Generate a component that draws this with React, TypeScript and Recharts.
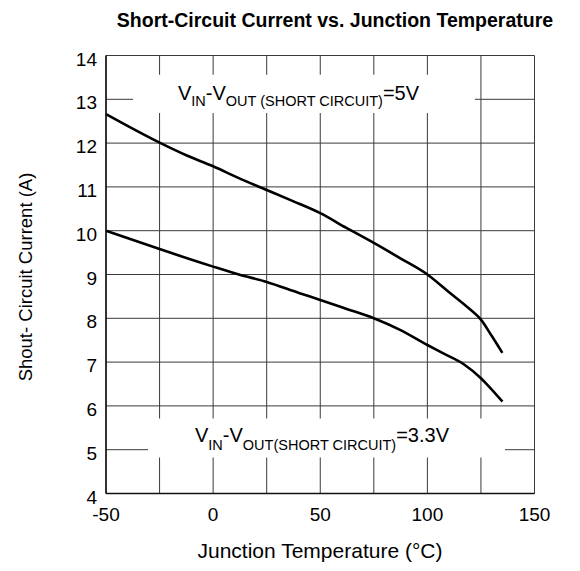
import React from 'react';
import { LineChart, Line, XAxis, YAxis, CartesianGrid, ReferenceArea } from 'recharts';

const tempTicks = [-50, -25, 0, 25, 50, 75, 100, 125, 150];
const labeledTemps = [-50, 0, 50, 100, 150];
const currentTicks = [4, 5, 6, 7, 8, 9, 10, 11, 12, 13, 14];

const temp5V = [-50, -25, -12, 0, 12, 25, 37, 50, 62, 75, 87, 100, 110, 120, 125, 130, 135];
const current5V = [12.66, 12.01, 11.71, 11.47, 11.2, 10.93, 10.68, 10.4, 10.07, 9.72, 9.38, 9.0, 8.6, 8.2, 7.97, 7.6, 7.21];

const temp33V = [-50, -25, 0, 12, 25, 40, 50, 62, 75, 87, 100, 107, 117, 125, 128, 135];
const current33V = [10.0, 9.58, 9.18, 9.0, 8.83, 8.58, 8.42, 8.22, 8.0, 7.74, 7.39, 7.21, 6.95, 6.63, 6.48, 6.1];

const data5V = temp5V.map((t, i) => ({ x: t, y: current5V[i] }));
const data33V = temp33V.map((t, i) => ({ x: t, y: current33V[i] }));

const FONT = "'Liberation Sans', Arial, sans-serif";

const XTick = (props: any) => {
  const { x, y, payload } = props;
  if (!labeledTemps.includes(payload.value)) return <g />;
  return (
    <text x={x} y={y} dy={19} textAnchor="middle" fontFamily={FONT} fontSize={19} fill="#000">
      {payload.value}
    </text>
  );
};

const YTick = (props: any) => {
  const { x, y, payload } = props;
  return (
    <text x={x - 1} y={y} dy={10} textAnchor="end" fontFamily={FONT} fontSize={19} fill="#000">
      {payload.value}
    </text>
  );
};

const BoxText = (props: any) => {
  const { viewBox, dx, dy, sub, shift, tail } = props;
  const { x, y } = viewBox;
  return (
    <text x={x + dx} y={y + dy} fontFamily={FONT} fontSize={20} fill="#000">
      <tspan>V</tspan>
      <tspan fontSize={14.5} dy={shift}>IN</tspan>
      <tspan dy={-shift}>-V</tspan>
      <tspan fontSize={14.5} dy={shift}>{sub}</tspan>
      <tspan dy={-shift}>{tail}</tspan>
    </text>
  );
};

export default function App() {
  return (
    <div style={{ position: 'absolute', left: 0, top: 0, width: 580, height: 571, background: '#fff' }}>
      <LineChart
        width={580}
        height={571}
        margin={{ top: 55.5, right: 45.5, bottom: 47.5, left: 46 }}
      >
        <CartesianGrid stroke="#3a3a3a" strokeWidth={1} />
        <XAxis
          type="number"
          dataKey="x"
          domain={[-50, 150]}
          ticks={tempTicks}
          interval={0}
          tickLine={false}
          axisLine={{ stroke: '#111', strokeWidth: 1.5 }}
          height={30}
          tick={XTick}
          allowDuplicatedCategory={false}
        />
        <YAxis
          type="number"
          dataKey="y"
          domain={[4, 14]}
          ticks={currentTicks}
          interval={0}
          tickLine={false}
          axisLine={{ stroke: '#111', strokeWidth: 1.5 }}
          width={60}
          tick={YTick}
        />
        <ReferenceArea
          x1={-37.4}
          x2={122.2}
          y1={12.69}
          y2={13.56}
          fill="#fff"
          fillOpacity={1}
          stroke="none"
          label={(p: any) => (
            <BoxText {...p} dx={45} dy={25.7} shift={6} sub="OUT (SHORT CIRCUIT)" tail="=5V" />
          )}
        />
        <ReferenceArea
          x1={-30.4}
          x2={136.2}
          y1={4.82}
          y2={5.71}
          fill="#fff"
          fillOpacity={1}
          stroke="none"
          label={(p: any) => (
            <BoxText {...p} dx={47} dy={23.3} shift={8} sub="OUT(SHORT CIRCUIT)" tail="=3.3V" />
          )}
        />
        <Line
          data={data5V}
          dataKey="y"
          type="monotone"
          stroke="#000"
          strokeWidth={2.6}
          dot={false}
          isAnimationActive={false}
        />
        <Line
          data={data33V}
          dataKey="y"
          type="monotone"
          stroke="#000"
          strokeWidth={2.6}
          dot={false}
          isAnimationActive={false}
        />
        <text x={335} y={27} textAnchor="middle" fontFamily={FONT} fontWeight="bold" fontSize={19.5} fill="#000">
          Short-Circuit Current vs. Junction Temperature
        </text>
        <text
          x={32}
          y={277}
          transform="rotate(-90 32 277)"
          textAnchor="middle"
          fontFamily={FONT}
          fontSize={18.5}
          fill="#000"
        >
          Shout- Circuit Current (A)
        </text>
        <text x={320} y={557.5} textAnchor="middle" fontFamily={FONT} fontSize={21} fill="#000">
          Junction Temperature (°C)
        </text>
      </LineChart>
    </div>
  );
}
